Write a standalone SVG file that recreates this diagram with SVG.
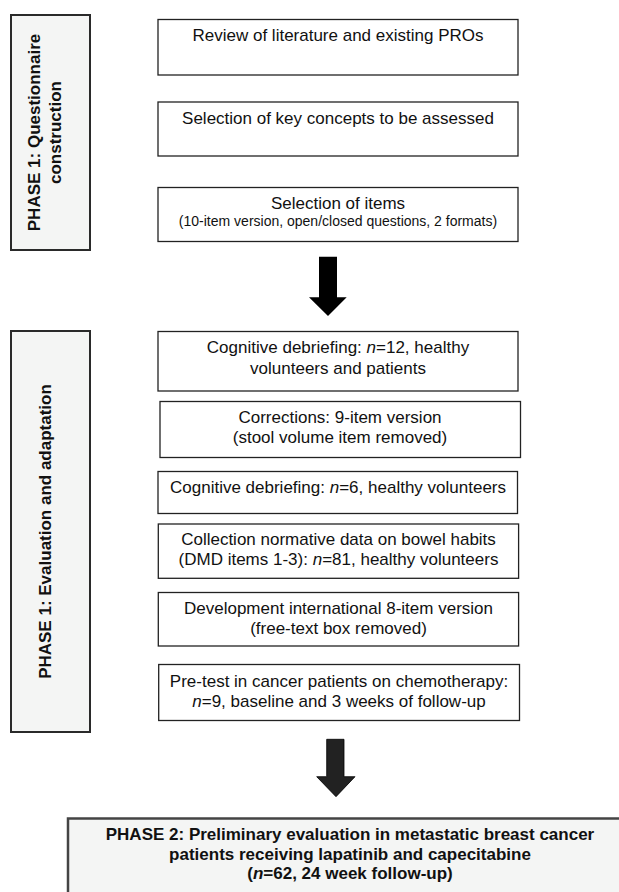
<svg xmlns="http://www.w3.org/2000/svg" width="619" height="892" viewBox="0 0 619 892">
<defs>
<style>
.bg{fill:#ffffff}
.box{fill:#ffffff;stroke:#222;stroke-width:1.3}
.phase{fill:#f4f5f4;stroke:#2a2a2a;stroke-width:2}
.t{font-family:"Liberation Sans",Arial,sans-serif;font-size:17px;fill:#111;text-anchor:middle}
.s{font-size:14px}
.b{font-family:"Liberation Sans",Arial,sans-serif;font-size:17px;font-weight:bold;fill:#111;text-anchor:middle}
.i{font-style:italic}
</style>
</defs>
<rect class="bg" x="0" y="0" width="619" height="892"/>

<g id="phase1-construction">
<rect class="phase" x="11" y="15" width="79" height="235"/>
<text class="b" transform="translate(40,132.5) rotate(-90)">PHASE 1: Questionnaire</text>
<text class="b" transform="translate(61,132.5) rotate(-90)">construction</text>
</g>

<g id="phase1-evaluation">
<rect class="phase" x="11" y="331" width="79" height="401"/>
<text class="b" transform="translate(51,531.5) rotate(-90)">PHASE 1: Evaluation and adaptation</text>
</g>

<g id="review">
<rect class="box" x="158" y="19.5" width="360" height="55.5"/>
<text class="t" x="338" y="41">Review of literature and existing PROs</text>
</g>

<g id="concepts">
<rect class="box" x="158" y="102" width="360" height="54"/>
<text class="t" x="338" y="124">Selection of key concepts to be assessed</text>
</g>

<g id="items">
<rect class="box" x="158" y="187.5" width="360" height="54"/>
<text class="t" x="338" y="208.5">Selection of items</text>
<text class="t s" x="338" y="225.5">(10-item version, open/closed questions, 2 formats)</text>
</g>

<g id="debrief12">
<rect class="box" x="158" y="331.5" width="360" height="59.5"/>
<text class="t" x="338" y="353">Cognitive debriefing: <tspan class="i">n</tspan>=12, healthy</text>
<text class="t" x="338" y="374">volunteers and patients</text>
</g>

<g id="corrections">
<rect class="box" x="160" y="401.5" width="360.5" height="56"/>
<text class="t" x="340" y="423">Corrections: 9-item version</text>
<text class="t" x="340" y="443">(stool volume item removed)</text>
</g>

<g id="debrief6">
<rect class="box" x="158" y="471.5" width="359.5" height="42"/>
<text class="t" x="338" y="493">Cognitive debriefing: <tspan class="i">n</tspan>=6, healthy volunteers</text>
</g>

<g id="normative">
<rect class="box" x="158.3" y="524" width="360.3" height="54.3"/>
<text class="t" x="338.5" y="545">Collection normative data on bowel habits</text>
<text class="t" x="338.5" y="565">(DMD items 1-3): <tspan class="i">n</tspan>=81, healthy volunteers</text>
</g>

<g id="international">
<rect class="box" x="158.3" y="592.5" width="360.3" height="53.5"/>
<text class="t" x="338.5" y="614">Development international 8-item version</text>
<text class="t" x="338.5" y="633.5">(free-text box removed)</text>
</g>

<g id="pretest">
<rect class="box" x="158.7" y="664.5" width="360.8" height="56"/>
<text class="t" x="339" y="686.5">Pre-test in cancer patients on chemotherapy:</text>
<text class="t" x="339" y="706.5"><tspan class="i">n</tspan>=9, baseline and 3 weeks of follow-up</text>
</g>

<g id="phase2">
<rect x="68" y="818.5" width="580" height="90" fill="#f4f5f4" stroke="#444" stroke-width="2.5"/>
<text class="b" x="350" y="840">PHASE 2: Preliminary evaluation in metastatic breast cancer</text>
<text class="b" x="350" y="860">patients receiving lapatinib and capecitabine</text>
<text class="b" x="350" y="879">(<tspan class="i">n</tspan>=62, 24 week follow-up)</text>
</g>

<g id="connectors">
<polygon points="319,256.7 337,256.7 337,297.3 346.7,297.3 328,316 309,297.3 319,297.3" fill="#000"/>
<polygon points="326.7,739.3 344,739.3 344,776.7 355,776.7 336,796.7 316.7,776.7 326.7,776.7" fill="#222" stroke="#000" stroke-width="0.8"/>
</g>
</svg>
